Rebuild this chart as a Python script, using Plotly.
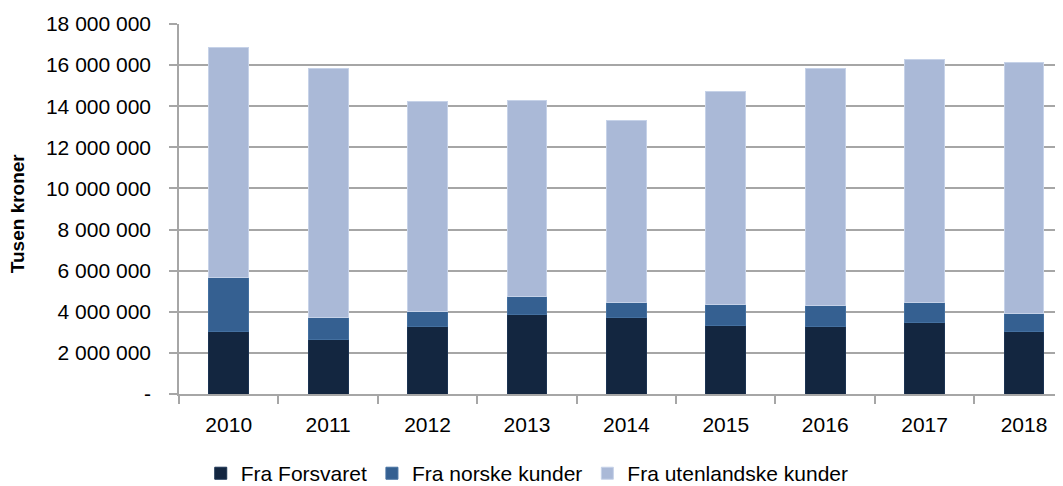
import plotly.graph_objects as go

years = ["2010", "2011", "2012", "2013", "2014", "2015", "2016", "2017", "2018"]
fra_forsvaret = [3030000, 2640000, 3260000, 3860000, 3700000, 3340000, 3290000, 3470000, 3020000]
fra_norske = [2660000, 1060000, 760000, 890000, 750000, 1020000, 1000000, 980000, 890000]
fra_utenlandske = [11160000, 12140000, 10220000, 9540000, 8850000, 10380000, 11550000, 11830000, 12210000]

tick_vals = [0, 2000000, 4000000, 6000000, 8000000, 10000000, 12000000, 14000000, 16000000, 18000000]
tick_text = ["-", "2 000 000", "4 000 000", "6 000 000", "8 000 000", "10 000 000",
             "12 000 000", "14 000 000", "16 000 000", "18 000 000"]

FONT = "Liberation Sans"
GRID = "#A6A6A6"

fig = go.Figure()
fig.add_trace(go.Bar(x=years, y=fra_forsvaret, name="Fra Forsvaret",
                     marker=dict(color="#132640", line=dict(color="#1c3352", width=1))))
fig.add_trace(go.Bar(x=years, y=fra_norske, name="Fra norske kunder",
                     marker=dict(color="#356091", line=dict(color="#4470a0", width=1))))
fig.add_trace(go.Bar(x=years, y=fra_utenlandske, name="Fra utenlandske kunder",
                     marker=dict(color="#AAB9D7", line=dict(color="#c6d2e8", width=1))))

# page body has an 8px margin, so the figure is sized/offset to compensate
fig.update_layout(
    barmode="stack",
    bargap=0.6,
    width=1055, height=478,
    margin=dict(l=171, r=0, t=16, b=91.5),
    paper_bgcolor="white", plot_bgcolor="white",
    font=dict(family=FONT, size=21, color="#000000"),
    showlegend=True,
    legend=dict(orientation="h", xref="container", yref="container",
                x=0.1827, xanchor="left", y=0.026, yanchor="middle",
                traceorder="normal", font=dict(size=21), itemwidth=30,
                bgcolor="rgba(0,0,0,0)", borderwidth=0),
    annotations=[dict(text="<b>Tusen kroner</b>", textangle=-90, xref="paper", yref="paper",
                      x=-0.1827, y=0.49, xanchor="center", yanchor="middle", showarrow=False,
                      font=dict(family=FONT, size=19, color="#000000"))],
)
fig.update_xaxes(
    type="category", range=[-0.5, 8.392], automargin=False,
    showline=True, linecolor=GRID, linewidth=1.5,
    ticks="outside", tickson="boundaries", ticklen=8, tickcolor=GRID, tickwidth=1.5,
    showgrid=False, tickfont=dict(size=21), ticklabelstandoff=11,
)
fig.update_yaxes(
    range=[0, 18000000], tickvals=tick_vals, ticktext=tick_text, automargin=False,
    showgrid=True, gridcolor=GRID, gridwidth=1.5,
    showline=True, linecolor=GRID, linewidth=1.5,
    ticks="outside", ticklen=8, tickcolor=GRID, tickwidth=1.5,
    tickfont=dict(size=21), ticklabelstandoff=14, zeroline=False,
)

fig.write_html("out.html")
